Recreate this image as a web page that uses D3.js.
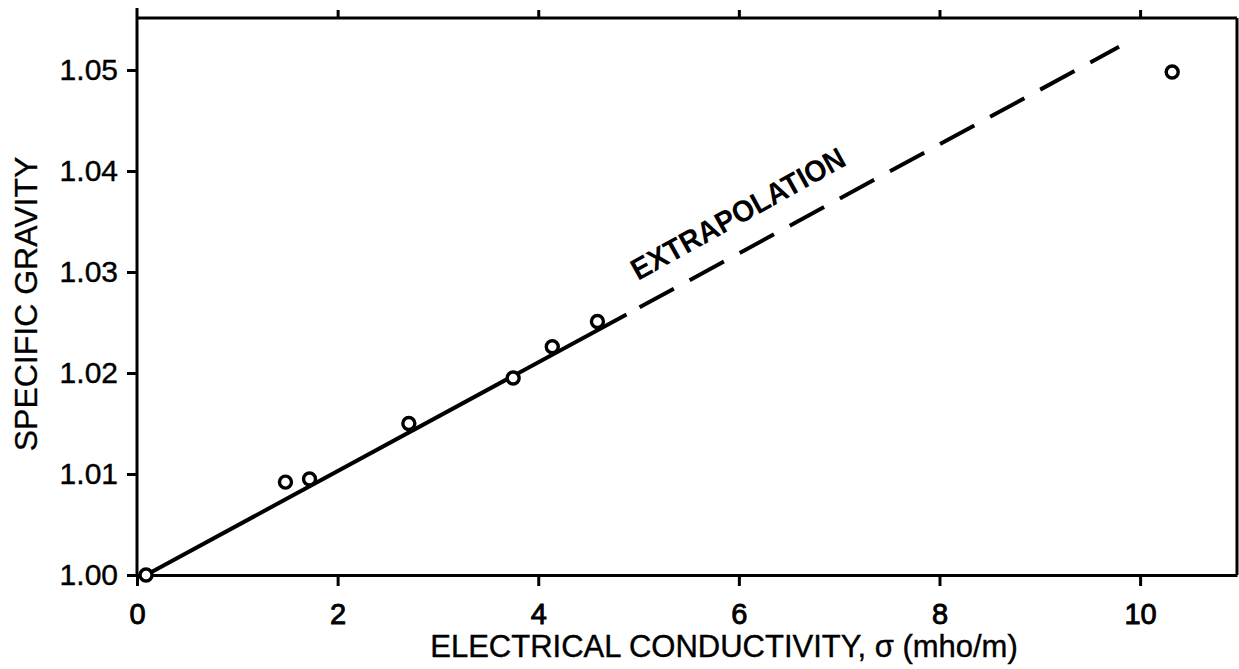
<!DOCTYPE html>
<html><head><meta charset="utf-8">
<script src="https://cdn.jsdelivr.net/npm/d3@7"></script>
<style>
html,body{margin:0;padding:0;background:#fff;}
svg{display:block;}
text{font-family:"Liberation Sans",Arial,Helvetica,sans-serif;fill:#000;}
</style></head>
<body>
<svg id="chart" width="1239" height="669"></svg>
<script>
// ---- data ----
const conductivity = [0.09, 1.48, 1.72, 2.71, 3.75, 4.14, 4.59, 10.32];
const specificGravity = [1.000, 1.0092, 1.0095, 1.0150, 1.0195, 1.0226, 1.0251, 1.0498];
const fitSolidX = [0.09, 4.88];
const fitSolidY = [1.000, 1.0258];
const fitDashX = [5.01, 9.79];
const fitDashY = [1.0265, 1.0523];
const xTicks = [0, 2, 4, 6, 8, 10];
const yTicks = [1.00, 1.01, 1.02, 1.03, 1.04, 1.05];
const xTitle = "ELECTRICAL CONDUCTIVITY, \u03C3 (mho/m)";
const yTitle = "SPECIFIC GRAVITY";
const lineLabel = "EXTRAPOLATION";

// ---- layout ----
const W = 1239, H = 669;
const m = {left: 137, right: 2, top: 18, bottom: 94};
const svg = d3.select("#chart");
const xMax = 10.966, yMax = 1.05515;
const x = d3.scaleLinear().domain([0, xMax]).range([m.left, W - m.right]);
const y = d3.scaleLinear().domain([1.00, yMax]).range([H - m.bottom, m.top]);

const sw = 3;
// frame top & right
svg.append("line").attr("x1", x(0)).attr("x2", x(xMax)).attr("y1", y(yMax)).attr("y2", y(yMax))
  .attr("stroke", "#000").attr("stroke-width", sw);
svg.append("line").attr("x1", x(xMax)).attr("x2", x(xMax)).attr("y1", y(yMax)).attr("y2", y(1.0))
  .attr("stroke", "#000").attr("stroke-width", sw);

// top ticks (no labels)
const gTop = svg.append("g").attr("transform", `translate(0,${y(yMax)})`)
  .call(d3.axisTop(x).tickValues(xTicks.slice(1)).tickSize(8).tickFormat(""));
gTop.select(".domain").remove();
gTop.selectAll("line").attr("stroke-width", sw);

// bottom axis
const gx = svg.append("g").attr("transform", `translate(0,${y(1.0)})`)
  .call(d3.axisBottom(x).tickValues(xTicks).tickSize(11).tickPadding(17).tickSizeOuter(0).tickFormat(d3.format("d")));
gx.select(".domain").attr("stroke-width", sw);
gx.selectAll(".tick line").attr("stroke-width", sw);
gx.selectAll(".tick text").attr("font-size", 29).attr("font-family", "Liberation Sans, Arial, sans-serif")
  .attr("stroke", "#000").attr("stroke-width", 0.9);

// left axis
const gy = svg.append("g").attr("transform", `translate(${x(0)},0)`)
  .call(d3.axisLeft(y).tickValues(yTicks).tickSize(10).tickPadding(9).tickSizeOuter(0).tickFormat(d3.format(".2f")));
gy.select(".domain").attr("stroke-width", sw).attr("d", `M0,${y(1.0)}V${y(yMax) - 10}`);
gy.selectAll(".tick line").attr("stroke-width", sw);
gy.selectAll(".tick text").attr("font-size", 30).attr("font-family", "Liberation Sans, Arial, sans-serif")
  .attr("stroke", "#000").attr("stroke-width", 0.4);

// titles
svg.append("text").attr("x", 724).attr("y", 657).attr("text-anchor", "middle")
  .attr("font-size", 31).attr("stroke", "#000").attr("stroke-width", 0.4).text(xTitle);
svg.append("text").attr("transform", `translate(37,304) rotate(-90)`).attr("text-anchor", "middle")
  .attr("font-size", 32).attr("stroke", "#000").attr("stroke-width", 0.3).text(yTitle);

// fit line
const lineGen = d3.line().x(d => x(d[0])).y(d => y(d[1]));
svg.append("path").datum(d3.zip(fitSolidX, fitSolidY)).attr("d", lineGen)
  .attr("fill", "none").attr("stroke", "#000").attr("stroke-width", 4);
svg.append("path").datum(d3.zip(fitDashX, fitDashY)).attr("d", lineGen)
  .attr("fill", "none").attr("stroke", "#000").attr("stroke-width", 4)
  .attr("stroke-dasharray", "39 18");

// label
svg.append("text").attr("transform", "translate(638,281) rotate(-29)")
  .attr("font-size", 30).attr("font-weight", "bold")
  .attr("textLength", 240).attr("lengthAdjust", "spacingAndGlyphs").text(lineLabel);

// points
svg.append("g").selectAll("circle").data(d3.zip(conductivity, specificGravity)).join("circle")
  .attr("cx", d => x(d[0])).attr("cy", d => y(d[1])).attr("r", 6)
  .attr("fill", "#fff").attr("stroke", "#000").attr("stroke-width", 3.4);
</script>
</body></html>
